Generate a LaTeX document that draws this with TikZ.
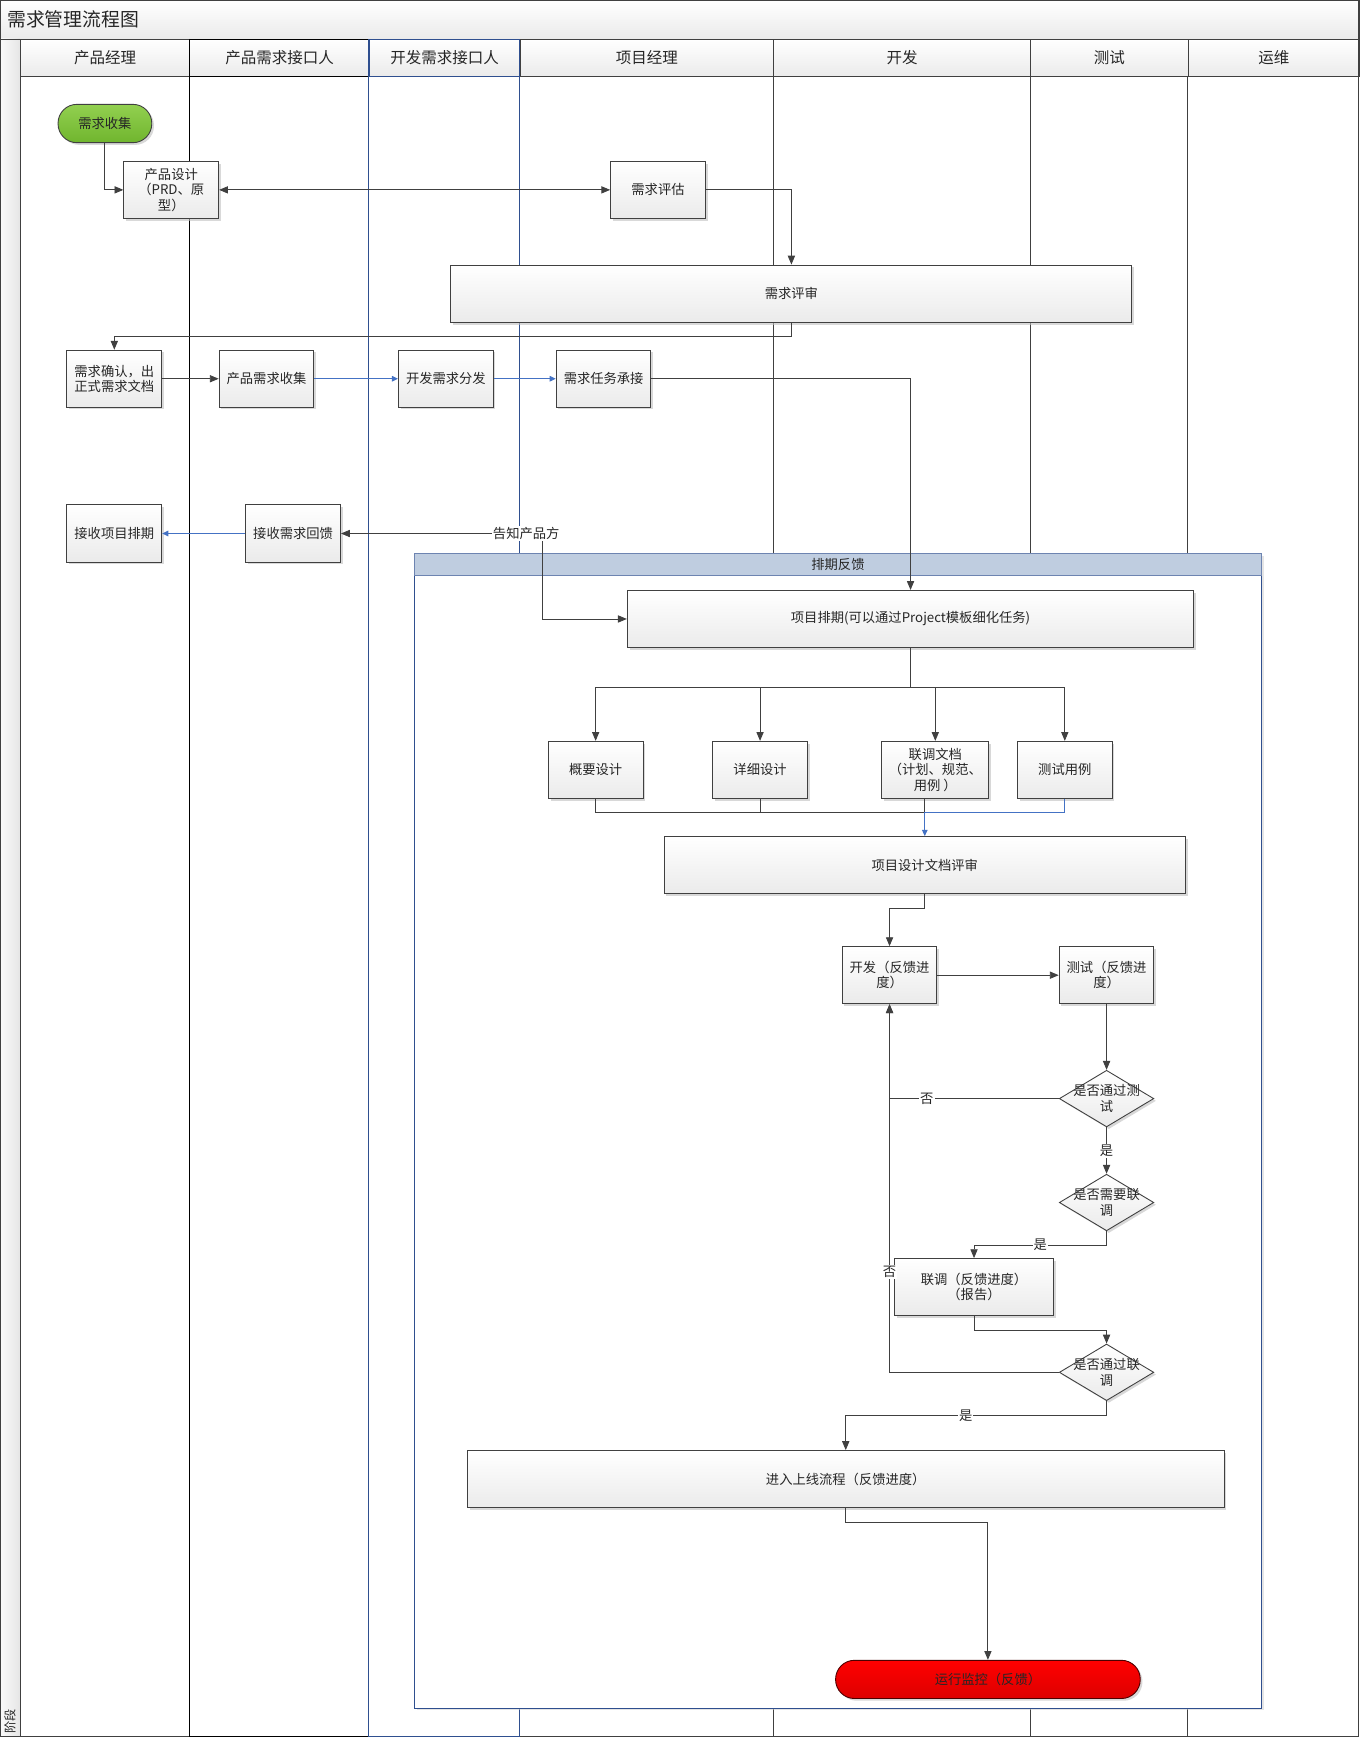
\documentclass[tikz,border=0pt]{standalone}
\usepackage{fontspec}
\setmainfont{Noto Sans CJK SC}
\usetikzlibrary{positioning}
\usetikzlibrary{shapes.geometric}
\usetikzlibrary{arrows.meta,shadows}
\definecolor{linegray}{HTML}{404040}
\definecolor{laneblue}{HTML}{2F4F8F}
\definecolor{bandblue}{HTML}{BFCDE0}
\definecolor{flowblue}{HTML}{4472C4}
\definecolor{startgreen}{HTML}{92D050}
\definecolor{startgreendark}{HTML}{70B52E}
\definecolor{stopred}{HTML}{FF0000}
\definecolor{stopreddark}{HTML}{DD0000}

\begin{document}
\begin{tikzpicture}[
    x=1pt, y=-1pt,
    every node/.style={font=\fontsize{12}{14}\selectfont, text=black!85},
    procbox/.style={draw=linegray, line width=0.9pt, top color=white, bottom color=black!8,
      drop shadow={shadow xshift=2pt, shadow yshift=-2pt, fill=black!25, opacity=0.6},
      minimum width=85.5pt, minimum height=51.5pt, inner sep=2pt, align=center},
    decision/.style={diamond, draw=linegray, line width=0.8pt, top color=white, bottom color=black!8,
      drop shadow={shadow xshift=2pt, shadow yshift=-2pt, fill=black!25, opacity=0.6},
      minimum width=85.3pt, minimum height=51.1pt, inner sep=0pt},
    dtext/.style={align=center, inner sep=0pt},
    terminal/.style={draw=linegray, line width=0.8pt, rounded corners=17pt, inner sep=0pt,
      drop shadow={shadow xshift=2pt, shadow yshift=-2pt, fill=black!25, opacity=0.6}},
    lanehead/.style={draw=linegray, line width=0.8pt, top color=white, bottom color=black!8,
      minimum height=34pt, inner sep=0pt, anchor=north west, font=\fontsize{14}{16}\selectfont},
    lane/.style={draw=linegray, line width=0.8pt},
    lbl/.style={fill=white, inner sep=1pt},
    line/.style={draw=linegray, line width=0.8pt},
    arr/.style={line, -{Triangle[length=8pt,width=6.5pt]}},
    dblarr/.style={line, {Triangle[length=8pt,width=6.5pt]}-{Triangle[length=8pt,width=6.5pt]}},
    bluearr/.style={draw=flowblue, line width=0.8pt, -{Triangle[length=5.5pt,width=5pt]}}
    ]

    \useasboundingbox (0,0) rectangle (1227,1568);

    \path[top color=white, bottom color=black!8, draw=linegray] (0,0) rectangle (1227,35);
    \node[anchor=west, font=\fontsize{17}{20}\selectfont] (title) at (3,17.5) {需求管理流程图};
    \path[left color=black!2, right color=black!10, draw=linegray] (0,35) rectangle (18,1568);
    \node[rotate=90, font=\fontsize{11}{13}\selectfont] (phase) at (9,1554) {阶段};

    \node[lanehead, minimum width=153pt] (h1) at (18,35) {产品经理};
    \node[lanehead, minimum width=162pt, draw=black] (h2) at (171,35) {产品需求接口人};
    \node[lanehead, minimum width=136pt, draw=laneblue] (h3) at (333,35) {开发需求接口人};
    \node[lanehead, minimum width=229pt] (h4) at (469,35) {项目经理};
    \node[lanehead, minimum width=232pt] (h5) at (698,35) {开发};
    \node[lanehead, minimum width=142pt] (h6) at (930,35) {测试};
    \node[lanehead, minimum width=155pt] (h7) at (1072,35) {运维};

    \draw[lane] (698,69) -- (698,1568);
    \draw[lane] (930,69) -- (930,1568);
    \draw[lane] (1072,69) -- (1072,1568);
    \draw[linegray, line width=1pt] (0.5,0.5) rectangle (1226.5,1567.5);
    \draw[black, line width=1pt] (171,35) -- (171,1567.5) -- (333,1567.5);
    \draw[laneblue, line width=1pt] (333,35) -- (333,1567.5) -- (469,1567.5) -- (469,35);

    \node[draw=laneblue, line width=0.9pt, fill=white, minimum width=764.1pt, minimum height=1041.9pt,
      anchor=north west, drop shadow={shadow xshift=2pt, shadow yshift=-2pt, fill=black!20}]
      (schedgroup) at (374.1,499.6) {};
    \node[draw=laneblue!70, line width=0.6pt, fill=bandblue, minimum width=764.1pt, minimum height=19.6pt,
      inner sep=0pt, anchor=north west] (schedband) at (374.1,499.6) {排期反馈};

    \node[terminal, top color=startgreen, bottom color=startgreendark, minimum width=84.6pt,
      minimum height=34.6pt] (collect) at (94.7,111.5) {需求收集};
    \node[procbox] (design) at (154.6,171.4) {产品设计\\（PRD、原\\型）};
    \node[procbox] (eval) at (594,171.4) {需求评估};
    \node[procbox, minimum width=614.6pt, minimum height=52pt] (review) at (714.4,265.3) {需求评审};

    \node[procbox] (confirm) at (103.2,341.9) {需求确认，出\\正式需求文档};
    \node[procbox, right=51pt of confirm] (pcollect) {产品需求收集};
    \node[procbox, right=75.5pt of pcollect] (dispatch) {开发需求分发};
    \node[procbox, right=56pt of dispatch] (accept) {需求任务承接};

    \node[procbox] (recvsched) at (103.2,481.6) {接收项目排期};
    \node[procbox] (recvfb) at (264.6,481.6) {接收需求回馈};

    \node[procbox, minimum width=511.3pt] (sched) at (821.95,558.75) {项目排期(可以通过Project模板细化任务)};

    \node[procbox] (brief) at (537.7,695) {概要设计};
    \node[procbox, right=62pt of brief] (detail) {详细设计};
    \node[procbox, minimum width=96.5pt, right=66.3pt of detail] (linkdoc) {联调文档\\（计划、规范、\\用例 ）};
    \node[procbox, right=25pt of linkdoc] (testcase) {测试用例};

    \node[procbox, minimum width=470.8pt] (docrev) at (834.8,780.9) {项目设计文档评审};

    \node[procbox] (dev) at (803,880.3) {开发（反馈进\\度）};
    \node[procbox] (test) at (998.9,880.3) {测试（反馈进\\度）};
    \node[decision, label={[dtext]center:是否通过测\\试}] (d1) at (998.9,991.7) {};
    \node[decision, label={[dtext]center:是否需要联\\调}] (d2) at (998.9,1085.5) {};
    \node[procbox, minimum width=143.9pt] (joint) at (879.25,1161.9) {联调（反馈进度）\\（报告）};
    \node[decision, label={[dtext]center:是否通过联\\调}] (d3) at (998.9,1238.8) {};
    \node[procbox, minimum width=683.1pt] (deploy) at (763.45,1335.2) {进入上线流程（反馈进度）};
    \node[terminal, top color=stopred, bottom color=stopreddark, draw=black!70!red, minimum width=275pt,
      minimum height=34.5pt] (monitor) at (891.8,1516) {运行监控（反馈）};

    \coordinate (notify) at (489.7,481.6);
    \coordinate (split) at (821.95,620.6);
    \coordinate (merge) at (834.8,733.4);

    \draw[arr] (collect.south) |- (design.west);
    \draw[dblarr] (design.east) -- (eval.west);
    \draw[arr] (eval.east) -| (review.north);
    \draw[arr] (review.south) -- ++(0,12.4) -| (confirm.north);
    \draw[arr] (confirm.east) -- (pcollect.west);
    \draw[bluearr] (pcollect.east) -- (dispatch.west);
    \draw[bluearr] (dispatch.east) -- (accept.west);
    \draw[arr] (accept.east) -| (sched.north);
    \draw[dblarr] (recvfb.east) -- (notify) |- (sched.west);
    \node[lbl] (notifylbl) at (475,481.6) {告知产品方};
    \draw[bluearr] (recvfb.west) -- (recvsched.east);

    \draw[arr] (sched.south) -- (split) -| (brief.north);
    \draw[arr] (split) -| (detail.north);
    \draw[arr] (split) -| (linkdoc.north);
    \draw[arr] (split) -| (testcase.north);
    \draw[line] (brief.south) |- (merge);
    \draw[line] (detail.south) |- (merge);
    \draw[line] (linkdoc.south -| merge) -- (merge);
    \draw[bluearr] (testcase.south) |- (merge) -- (docrev.north);

    \draw[arr] (docrev.south) -- ++(0,12.6) -| (dev.north);
    \draw[arr] (dev.east) -- (test.west);
    \draw[arr] (test.south) -- (d1.north);
    \draw[arr] (d1.west) -| node[lbl, pos=0.39] {否} (dev.south);
    \draw[arr] (d1.south) -- node[lbl] {是} (d2.north);
    \draw[arr] (d2.south) -- ++(0,12.4) -| node[lbl, pos=0.25] {是} (joint.north);
    \draw[arr] (joint.south) -- ++(0,12.6) -| (d3.north);
    \draw[arr] (d3.west) -| node[lbl, pos=0.636] {否} (dev.south);
    \draw[arr] (d3.south) -- ++(0,13) -| node[lbl, pos=0.27] {是} (deploy.north);
    \draw[arr] (deploy.south) -- ++(0,12.6) -| (monitor.north);

  \end{tikzpicture}
\end{document}
